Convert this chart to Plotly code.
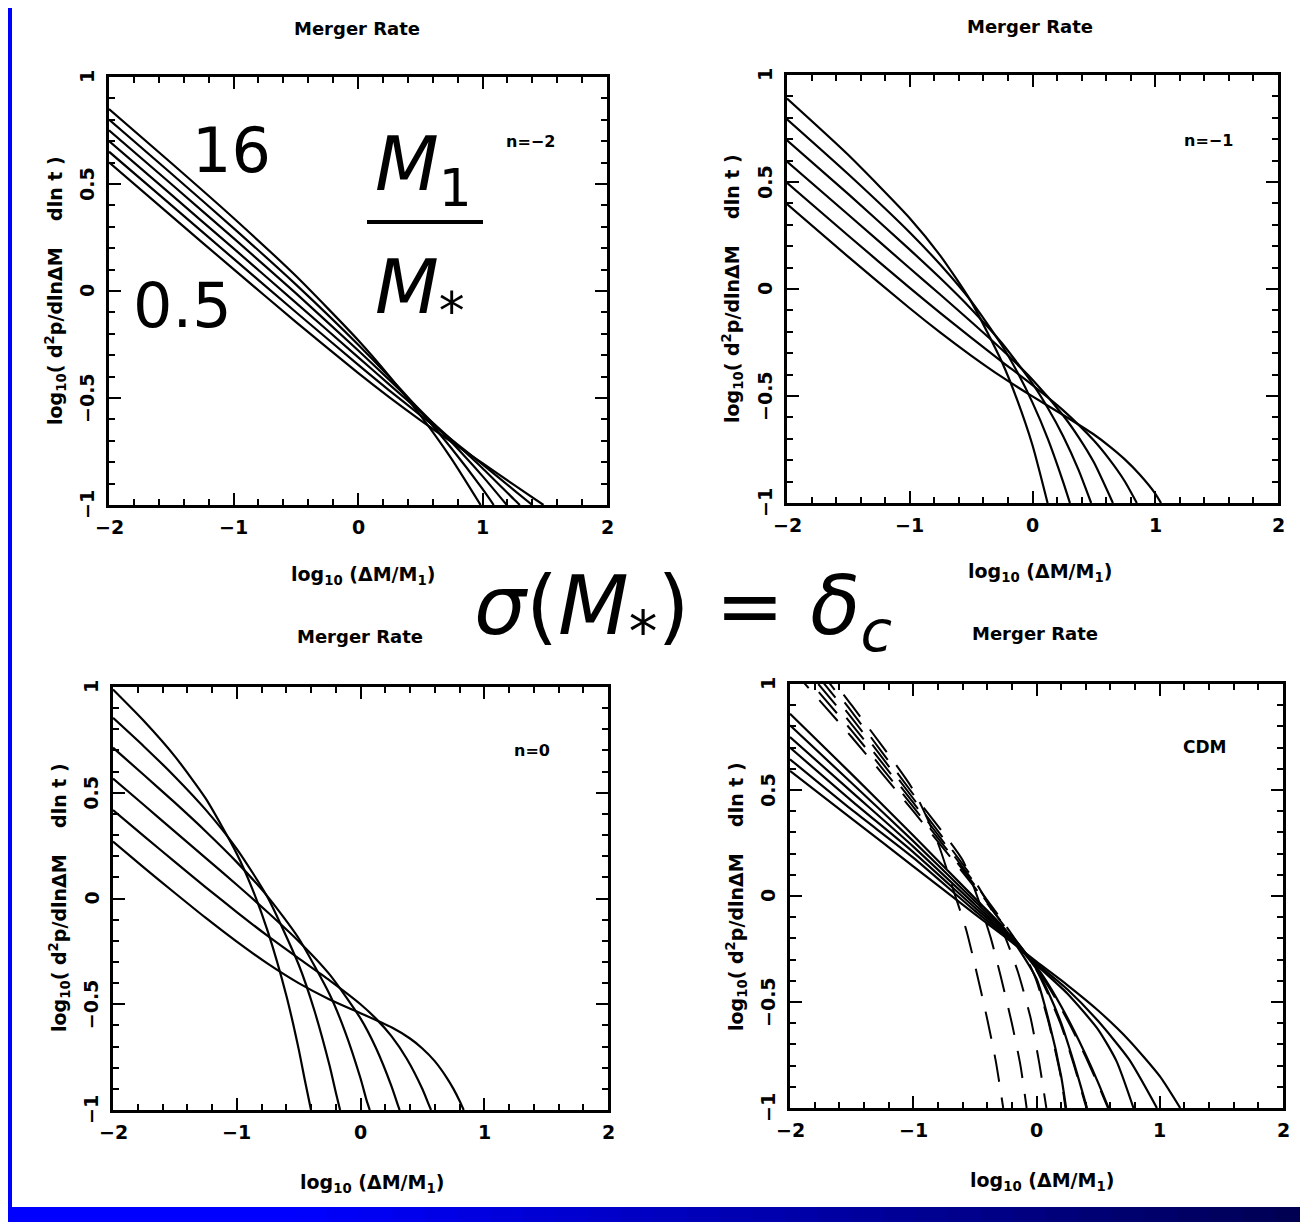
import plotly.graph_objects as go

# The page body keeps its default 8px margin, so the figure is 16px smaller
# than the 1308x1230 window and every window position is shifted by 8px.
W, H = 1308, 1230
OFF = 8
FW, FH = W - 2 * OFF, H - 2 * OFF

# ---------------- data ----------------
# x = log10(dM/M1), y = log10(d2p/dlndM dlnt); curves labelled by M1/M*
# n = -2
N2_16_X = [-2, -1.5, -1, -0.5, 0, 0.25, 0.5, 0.75, 0.985]
N2_16_Y = [0.850, 0.598, 0.341, 0.071, -0.229, -0.397, -0.580, -0.783, -1.0]
N2_8_X = [-2, -1.5, -1, -0.5, 0, 0.25, 0.5, 0.75, 1.0, 1.09]
N2_8_Y = [0.801, 0.549, 0.294, 0.031, -0.250, -0.401, -0.562, -0.735, -0.925, -1.0]
N2_4_X = [-2, -1.5, -1, -0.5, 0, 0.25, 0.5, 0.75, 1.0, 1.195]
N2_4_Y = [0.751, 0.500, 0.247, -0.010, -0.277, -0.415, -0.557, -0.706, -0.865, -1.0]
N2_2_X = [-2, -1.5, -1, -0.5, 0, 0.25, 0.5, 0.75, 1.0, 1.25, 1.30]
N2_2_Y = [0.701, 0.450, 0.199, -0.054, -0.309, -0.436, -0.564, -0.694, -0.828, -0.972, -1.0]
N2_1_X = [-2, -1.5, -1, -0.5, 0, 0.25, 0.5, 0.75, 1.0, 1.25, 1.40]
N2_1_Y = [0.651, 0.401, 0.151, -0.098, -0.344, -0.464, -0.580, -0.694, -0.810, -0.929, -1.0]
N2_05_X = [-2, -1.5, -1, -0.5, 0, 0.25, 0.5, 0.75, 1.0, 1.25, 1.49]
N2_05_Y = [0.601, 0.351, 0.102, -0.144, -0.383, -0.496, -0.603, -0.705, -0.805, -0.905, -1.0]

# n = -1
N1_16_X = [-2, -1.5, -1, -0.75, -0.5, -0.25, -0.125, 0, 0.123]
N1_16_Y = [0.890, 0.626, 0.331, 0.155, -0.059, -0.340, -0.518, -0.730, -1.0]
N1_8_X = [-2, -1.5, -1, -0.75, -0.5, -0.25, -0.125, 0, 0.125, 0.25, 0.305]
N1_8_Y = [0.793, 0.536, 0.264, 0.113, -0.057, -0.263, -0.387, -0.531, -0.700, -0.902, -1.0]
N1_4_X = [-2, -1.5, -1, -0.75, -0.5, -0.25, 0, 0.125, 0.25, 0.375, 0.478]
N1_4_Y = [0.695, 0.443, 0.184, 0.050, -0.093, -0.252, -0.442, -0.556, -0.688, -0.845, -1.0]
N1_2_X = [-2, -1.5, -1, -0.75, -0.5, -0.25, 0, 0.25, 0.375, 0.5, 0.655]
N1_2_Y = [0.596, 0.347, 0.097, -0.027, -0.153, -0.283, -0.424, -0.591, -0.692, -0.810, -1.0]
N1_1_X = [-2, -1.5, -1, -0.75, -0.5, -0.25, 0, 0.25, 0.5, 0.625, 0.75, 0.85]
N1_1_Y = [0.496, 0.249, 0.005, -0.113, -0.227, -0.339, -0.449, -0.567, -0.708, -0.795, -0.897, -1.0]
N1_05_X = [-2, -1.5, -1, -0.75, -0.5, -0.25, 0, 0.25, 0.5, 0.625, 0.75, 0.875, 1.0, 1.047]
N1_05_Y = [0.397, 0.150, -0.090, -0.204, -0.311, -0.411, -0.502, -0.589, -0.680, -0.734, -0.795, -0.868, -0.956, -1.0]

# n = 0
N0_16_X = [-2, -1.75, -1.5, -1.25, -1, -0.875, -0.75, -0.6, -0.5, -0.45, -0.40]
N0_16_Y = [0.988, 0.839, 0.672, 0.472, 0.212, 0.047, -0.154, -0.457, -0.711, -0.858, -1.0]
N0_8_X = [-2, -1.75, -1.5, -1.25, -1, -0.75, -0.5, -0.375, -0.25, -0.2, -0.165]
N0_8_Y = [0.854, 0.719, 0.576, 0.419, 0.235, 0.005, -0.312, -0.525, -0.790, -0.916, -1.0]
N0_4_X = [-2, -1.75, -1.5, -1.25, -1, -0.75, -0.5, -0.25, -0.125, 0, 0.05, 0.075]
N0_4_Y = [0.713, 0.584, 0.453, 0.317, 0.172, 0.009, -0.188, -0.453, -0.629, -0.850, -0.956, -1.0]
N0_2_X = [-2, -1.75, -1.5, -1.25, -1, -0.75, -0.5, -0.25, 0, 0.125, 0.25, 0.3, 0.316]
N0_2_Y = [0.567, 0.442, 0.316, 0.191, 0.065, -0.065, -0.202, -0.359, -0.567, -0.707, -0.887, -0.973, -1.0]
N0_1_X = [-2, -1.75, -1.5, -1.25, -1, -0.75, -0.5, -0.25, 0, 0.125, 0.25, 0.375, 0.5, 0.55, 0.57]
N0_1_Y = [0.418, 0.295, 0.173, 0.053, -0.064, -0.177, -0.283, -0.387, -0.500, -0.568, -0.651, -0.759, -0.901, -0.972, -1.0]
N0_05_X = [-2, -1.75, -1.5, -1.25, -1, -0.75, -0.5, -0.25, 0, 0.25, 0.4, 0.5, 0.6, 0.7, 0.75, 0.8, 0.834]
N0_05_Y = [0.269, 0.146, 0.026, -0.092, -0.204, -0.308, -0.400, -0.477, -0.542, -0.609, -0.662, -0.709, -0.769, -0.850, -0.899, -0.956, -1.0]

# CDM, solid
CDM_S0_X = [-2, -1.5, -1, -0.5, -0.25, 0, 0.1, 0.2, 0.24]
CDM_S0_Y = [0.86, 0.575, 0.285, -0.01, -0.16, -0.39, -0.59, -0.85, -1.0]
CDM_S1_X = [-2, -1.5, -1, -0.5, -0.25, 0, 0.1, 0.2, 0.3, 0.41]
CDM_S1_Y = [0.805, 0.533, 0.259, -0.025, -0.167, -0.345, -0.46, -0.60, -0.78, -1.0]
CDM_S2_X = [-2, -1.5, -1, -0.5, -0.25, 0, 0.1, 0.2, 0.3, 0.4, 0.5, 0.585]
CDM_S2_Y = [0.75, 0.491, 0.233, -0.04, -0.174, -0.335, -0.42, -0.52, -0.63, -0.75, -0.88, -1.0]
CDM_S3_X = [-2, -1.5, -1, -0.5, -0.25, 0, 0.25, 0.5, 0.65, 0.787]
CDM_S3_Y = [0.70, 0.449, 0.207, -0.055, -0.181, -0.325, -0.46, -0.63, -0.78, -1.0]
CDM_S4_X = [-2, -1.5, -1, -0.5, -0.25, 0, 0.25, 0.5, 0.75, 0.977]
CDM_S4_Y = [0.645, 0.407, 0.181, -0.07, -0.188, -0.318, -0.44, -0.59, -0.77, -1.0]
CDM_S5_X = [-2, -1.5, -1, -0.5, -0.25, 0, 0.25, 0.5, 0.75, 1.0, 1.166]
CDM_S5_Y = [0.59, 0.365, 0.14, -0.085, -0.195, -0.31, -0.42, -0.54, -0.68, -0.85, -1.0]

# CDM, dashed
CDM_D0_X = [-2, -1.5, -1, -0.8, -0.67, -0.57, -0.49, -0.40, -0.33, -0.27]
CDM_D0_Y = [1.28, 0.90, 0.50, 0.25, 0.02, -0.16, -0.35, -0.58, -0.78, -1.0]
CDM_D1_X = [-2, -1.5, -1, -0.6, -0.47, -0.37, -0.29, -0.2, -0.13, -0.08]
CDM_D1_Y = [1.24, 0.87, 0.48, 0.17, -0.02, -0.20, -0.38, -0.60, -0.80, -1.0]
CDM_D2_X = [-2, -1.5, -1, -0.5, -0.35, -0.25, -0.15, -0.05, 0.02, 0.08]
CDM_D2_Y = [1.20, 0.84, 0.46, 0.07, -0.08, -0.20, -0.36, -0.57, -0.78, -1.0]
CDM_D3_X = [-2, -1.5, -1, -0.5, -0.25, -0.1, 0.0, 0.1, 0.2, 0.235]
CDM_D3_Y = [1.16, 0.81, 0.44, 0.06, -0.14, -0.27, -0.40, -0.60, -0.86, -1.0]
CDM_D4_X = [-2, -1.5, -1, -0.5, -0.25, -0.1, 0.0, 0.1, 0.2, 0.3, 0.405]
CDM_D4_Y = [1.12, 0.78, 0.42, 0.05, -0.15, -0.26, -0.35, -0.47, -0.61, -0.79, -1.0]
CDM_D5_X = [-2, -1.5, -1, -0.5, -0.25, -0.1, 0.0, 0.1, 0.2, 0.3, 0.4, 0.5, 0.58]
CDM_D5_Y = [1.08, 0.75, 0.40, 0.04, -0.15, -0.26, -0.34, -0.43, -0.53, -0.64, -0.76, -0.89, -1.0]

X_TICKS = [-2, -1, 0, 1, 2]
X_TICK_TEXT = ["\u22122", "\u22121", "0", "1", "2"]
Y_TICKS = [-1, -0.5, 0, 0.5, 1]
Y_TICK_TEXT = ["\u22121", "\u22120.5", "0", "0.5", "1"]
PANEL_LABELS = ["n=\u22122", "n=\u22121", "n=0", "CDM"]


def PX(px):
    return (px - OFF) / FW


def PY(py):
    return 1 - (py - OFF) / FH


# ---------------- figure ----------------
fig = go.Figure()

panels = [
    ("x", "y", [(N2_16_X, N2_16_Y), (N2_8_X, N2_8_Y), (N2_4_X, N2_4_Y),
                (N2_2_X, N2_2_Y), (N2_1_X, N2_1_Y), (N2_05_X, N2_05_Y)], "solid"),
    ("x2", "y2", [(N1_16_X, N1_16_Y), (N1_8_X, N1_8_Y), (N1_4_X, N1_4_Y),
                  (N1_2_X, N1_2_Y), (N1_1_X, N1_1_Y), (N1_05_X, N1_05_Y)], "solid"),
    ("x3", "y3", [(N0_16_X, N0_16_Y), (N0_8_X, N0_8_Y), (N0_4_X, N0_4_Y),
                  (N0_2_X, N0_2_Y), (N0_1_X, N0_1_Y), (N0_05_X, N0_05_Y)], "solid"),
    ("x4", "y4", [(CDM_S0_X, CDM_S0_Y), (CDM_S1_X, CDM_S1_Y), (CDM_S2_X, CDM_S2_Y),
                  (CDM_S3_X, CDM_S3_Y), (CDM_S4_X, CDM_S4_Y), (CDM_S5_X, CDM_S5_Y)], "solid"),
    ("x4", "y4", [(CDM_D0_X, CDM_D0_Y), (CDM_D1_X, CDM_D1_Y), (CDM_D2_X, CDM_D2_Y),
                  (CDM_D3_X, CDM_D3_Y), (CDM_D4_X, CDM_D4_Y), (CDM_D5_X, CDM_D5_Y)], "28px,16px"),
]
for xa, ya, curves, dash in panels:
    for xs, ys in curves:
        fig.add_trace(go.Scatter(
            x=xs, y=ys, mode="lines", xaxis=xa, yaxis=ya,
            line=dict(color="black", width=2.2 if dash == "solid" else 2.0,
                      shape="spline", smoothing=0.6, dash=dash),
            showlegend=False, hoverinfo="skip"))

# panel boxes in window pixels: (left, top, right, bottom)
BOXES = [(109, 77, 607, 505), (787, 75, 1278, 503),
         (113, 687, 608, 1110), (790, 684, 1283, 1108)]

TICKFONT = dict(family="DejaVu Sans", size=19, color="black", weight="bold")

layout_axes = {}
annotations = []
for i, (l, t, r, b) in enumerate(BOXES):
    sfx = "" if i == 0 else str(i + 1)
    layout_axes["xaxis" + sfx] = dict(
        domain=[PX(l), PX(r)], anchor="y" + sfx, range=[-2, 2],
        tickmode="array", tickvals=X_TICKS, ticks="inside", ticklen=12,
        tickwidth=2, tickcolor="black", showline=True, linewidth=2.5,
        linecolor="black", mirror="ticks", showgrid=False, zeroline=False,
        showticklabels=False, fixedrange=True,
        minor=dict(dtick=0.2, tick0=0, ticks="inside", ticklen=6,
                   tickwidth=1.8, tickcolor="black", showgrid=False))
    layout_axes["yaxis" + sfx] = dict(
        domain=[PY(b), PY(t)], anchor="x" + sfx, range=[-1, 1],
        tickmode="array", tickvals=Y_TICKS, ticks="inside", ticklen=12,
        tickwidth=2, tickcolor="black", showline=True, linewidth=2.5,
        linecolor="black", mirror="ticks", showgrid=False, zeroline=False,
        showticklabels=False, fixedrange=True,
        minor=dict(dtick=0.1, tick0=0, ticks="inside", ticklen=6,
                   tickwidth=1.8, tickcolor="black", showgrid=False))
    # tick labels placed on the axes' own scales
    for v, txt in zip(X_TICKS, X_TICK_TEXT):
        annotations.append(dict(x=v, xref="x" + sfx, y=0, yref="y" + sfx + " domain",
                                text=txt, showarrow=False, xanchor="center", yanchor="middle",
                                yshift=-22, font=TICKFONT))
    for v, txt in zip(Y_TICKS, Y_TICK_TEXT):
        annotations.append(dict(x=0, xref="x" + sfx + " domain", y=v, yref="y" + sfx,
                                text=txt, showarrow=False, xanchor="center", yanchor="middle",
                                xshift=-22, textangle=-90, font=TICKFONT))


def ann(px, py, text, size, bold=True, angle=0, xanchor="center", yanchor="middle"):
    return dict(x=PX(px), y=PY(py), xref="paper", yref="paper", text=text,
                showarrow=False, textangle=angle, xanchor=xanchor, yanchor=yanchor,
                font=dict(family="DejaVu Sans", size=size, color="black",
                          weight="bold" if bold else "normal"))


XT = "log<sub>10</sub> (\u0394M/M<sub>1</sub>)"
YT = "log<sub>10</sub>( d<sup>2</sup>p/dln\u0394M\u00a0\u00a0\u00a0\u00a0dln t )"

TITLE_POS = [(357, 28), (1030, 27), (360, 636), (1035, 633)]
XT_POS = [(363, 575), (1040, 573), (372, 1183), (1042, 1181)]
YT_POS = [(55, 291), (732, 289), (59, 898), (736, 896)]
LAB_POS = [(530, 141), (1208, 140), (532, 750), (1205, 747)]
for i in range(4):
    annotations.append(ann(*TITLE_POS[i], "Merger Rate", 18))
    annotations.append(ann(*XT_POS[i], XT, 19))
    annotations.append(ann(*YT_POS[i], YT, 19, angle=-90))
    annotations.append(ann(*LAB_POS[i], PANEL_LABELS[i], 17 if i == 3 else 16))

# slide overlay text
annotations.append(ann(231, 150, "16", 62, bold=False))
annotations.append(ann(182, 305, "0.5", 62, bold=False))
annotations.append(ann(373, 170, "<i>M</i><sub>1</sub>", 74, bold=False, xanchor="left"))
annotations.append(ann(373, 292, "<i>M</i><sub>*</sub>", 74, bold=False, xanchor="left"))
annotations.append(ann(683, 612, "<i>\u03c3</i>(<i>M</i><sub>*</sub>) = <i>\u03b4</i><sub><i>c</i></sub>", 82, bold=False))

shapes = []
# fraction bar
shapes.append(dict(type="line", xref="paper", yref="paper", x0=PX(367), x1=PX(483),
                   y0=PY(222), y1=PY(222), line=dict(color="black", width=4)))


def band_col(px):
    b = 255 if px < 300 else 255 - (px - 300) / (W - 300) * 175
    return "rgb(0,0,%d)" % round(b)


NSTEP = 40
for k in range(NSTEP):
    x0 = k * W / NSTEP
    x1 = (k + 1) * W / NSTEP
    c = band_col((x0 + x1) / 2)
    for (ya, yb) in [(0, 6), (1207, 1227)]:
        shapes.append(dict(type="rect", xref="paper", yref="paper", x0=PX(x0), x1=PX(x1) + 0.001,
                           y0=PY(yb), y1=PY(ya), line=dict(width=0), fillcolor=c, layer="above"))
shapes.append(dict(type="rect", xref="paper", yref="paper", x0=PX(0), x1=PX(W), y0=PY(1230), y1=PY(1227),
                   line=dict(width=0), fillcolor="#8c8cc8", layer="above"))
shapes.append(dict(type="rect", xref="paper", yref="paper", x0=PX(0), x1=PX(12), y0=PY(1227), y1=PY(0),
                   line=dict(width=0), fillcolor="#0000ff", layer="above"))

fig.update_layout(
    width=FW, height=FH, margin=dict(l=0, r=0, t=0, b=0),
    paper_bgcolor="white", plot_bgcolor="white", showlegend=False,
    annotations=annotations, shapes=shapes, **layout_axes)

fig.write_html("out.html", config={"displayModeBar": False})
